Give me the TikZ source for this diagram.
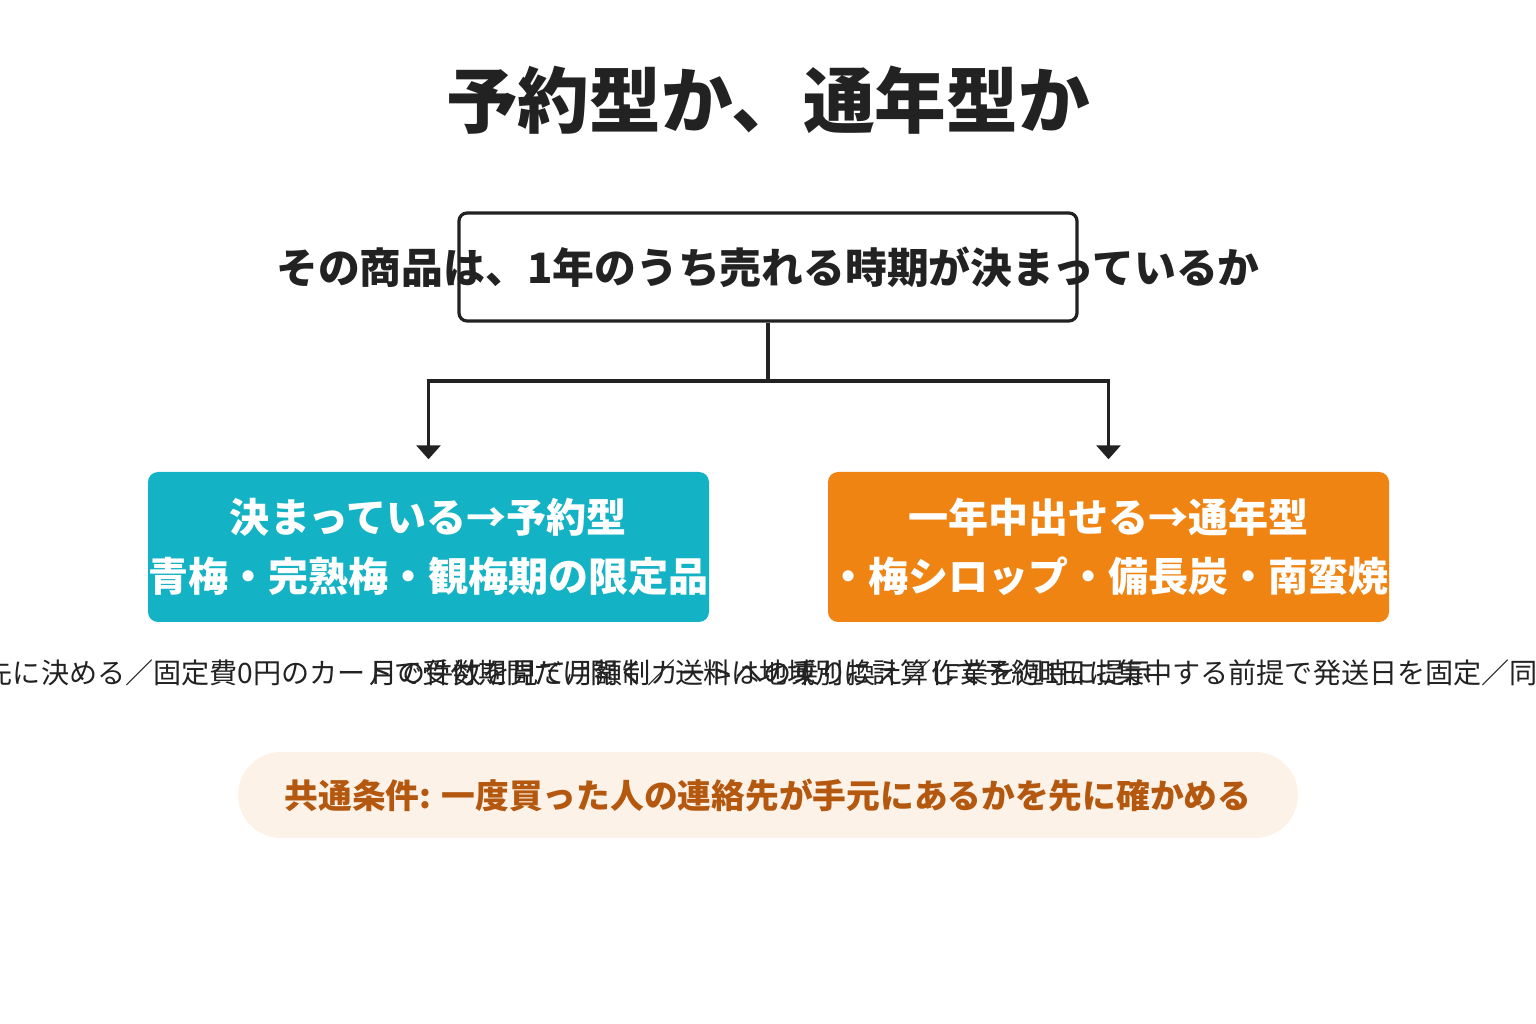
\documentclass[tikz,border=0pt]{standalone}
\usepackage{fontspec}
\setmainfont{Noto Sans CJK JP}
\usetikzlibrary{arrows.meta}
\definecolor{ink}{HTML}{222222}
\definecolor{yoyakucol}{HTML}{13B2C5}
\definecolor{tsunencol}{HTML}{EF8413}
\definecolor{pillfill}{HTML}{FDF2E7}
\definecolor{pilltext}{HTML}{B4580F}
\begin{document}
\begin{tikzpicture}[x=0.1mm,y=-0.1mm,
  qbox/.style={draw=ink, line width=0.9pt, rounded corners=0.8mm, minimum width=61.8mm, minimum height=10.8mm, inner sep=0pt},
  qtext/.style={text=ink, font=\bfseries\fontsize{11.9}{14}\selectfont},
  typebox/.style={rounded corners=1mm, minimum width=56.1mm, minimum height=15mm, inner sep=0pt, text=white, align=center, font=\bfseries\fontsize{11.4}{16.8}\selectfont},
  howto/.style={text=ink, font=\fontsize{8}{10}\selectfont},
  pill/.style={fill=pillfill, rounded corners=4.3mm, minimum width=106mm, minimum height=8.6mm, text=pilltext, font=\bfseries\fontsize{9.6}{11}\selectfont},
  conn/.style={draw=ink, line width=0.9pt},
  arr/.style={conn, -{Triangle[width=2.4mm,length=1.4mm]}, shorten >=1.2mm}
]
\useasboundingbox (0,0) rectangle (1536,1024);
\node[text=ink, font=\bfseries\fontsize{20.4}{24}\selectfont] (title) at (768,100) {予約型か、通年型か};

\node[qbox] (q) at (768,267) {};
\node[qtext] (qlabel) at (768,267) {その商品は、1年のうち売れる時期が決まっているか};

\node[typebox, fill=yoyakucol] (yoyaku) at (428.5,547) {決まっている→予約型\\青梅・完熟梅・観梅期の限定品};
\node[typebox, fill=tsunencol] (tsunen) at (1108.5,547) {一年中出せる→通年型\\・梅シロップ・備長炭・南蛮焼};

\coordinate (split) at (768,381);
\draw[conn] (q.south) -- (split);
\draw[arr] (split) -| (yoyaku.north);
\draw[arr] (split) -| (tsunen.north);

\node[howto] (howyoyaku) at (428,673) {収穫予定日と発送日を先に決める／固定費0円のカートで受付期間だけ開く／送料は地域別に計算して予約時に提示};
\node[howto] (howtsunen) at (1108,673) {月の件数を見て月額制カートへの乗り換え／作業を週1日に集中する前提で発送日を固定／同梱で送料を少なく抑える};

\node[pill] (common) at (768,795) {共通条件: 一度買った人の連絡先が手元にあるかを先に確かめる};
\end{tikzpicture}
\end{document}
